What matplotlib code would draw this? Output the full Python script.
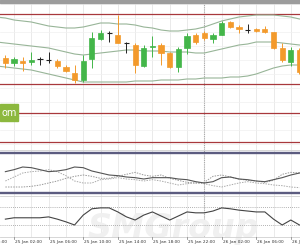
import matplotlib
matplotlib.use('Agg')
import matplotlib.pyplot as plt
from matplotlib.patches import Rectangle

W, H = 300, 250

# hourly candles, hour 0 = 25 Jan 00:00
hours = list(range(1, 36))
opens = [1.3942, 1.3937, 1.3939, 1.3938, 1.3941, 1.3940, 1.3939, 1.3933, 1.3927, 1.3920,
         1.3941, 1.3961, 1.3967, 1.3965, 1.3957, 1.3955, 1.3934, 1.3953, 1.3955, 1.3947,
         1.3933, 1.3952, 1.3965, 1.3967, 1.3961, 1.3965, 1.3978, 1.3973, 1.3970, 1.3971,
         1.3971, 1.3968, 1.3952, 1.3938, 1.3950]
highs = [1.3945, 1.3943, 1.3943, 1.3948, 1.3943, 1.3948, 1.3941, 1.3935, 1.3935, 1.3945,
         1.3968, 1.3970, 1.3969, 1.3985, 1.3958, 1.3957, 1.3955, 1.3964, 1.3957, 1.3948,
         1.3953, 1.3967, 1.3967, 1.3969, 1.3967, 1.3979, 1.3979, 1.3975, 1.3976, 1.3972,
         1.3974, 1.3968, 1.3957, 1.3953, 1.3952]
lows = [1.3932, 1.3934, 1.3929, 1.3935, 1.3935, 1.3937, 1.3932, 1.3928, 1.3917, 1.3918,
        1.3932, 1.3960, 1.3958, 1.3957, 1.3947, 1.3927, 1.3933, 1.3943, 1.3935, 1.3932,
        1.3928, 1.3946, 1.3956, 1.3960, 1.3957, 1.3965, 1.3972, 1.3967, 1.3967, 1.3968,
        1.3967, 1.3951, 1.3938, 1.3934, 1.3926]
closes = [1.3937, 1.3941, 1.3937, 1.3940, 1.3941, 1.3940, 1.3934, 1.3929, 1.3920, 1.3939,
          1.3962, 1.3967, 1.3967, 1.3957, 1.3957, 1.3935, 1.3952, 1.3954, 1.3947, 1.3933,
          1.3951, 1.3964, 1.3958, 1.3962, 1.3965, 1.3977, 1.3973, 1.3971, 1.3970, 1.3969,
          1.3968, 1.3952, 1.3940, 1.3950, 1.3928]

# bollinger bands, hours 0..35
band_hours = list(range(0, 36))
bb_upper = [1.3983, 1.3982, 1.3980, 1.3979, 1.3978, 1.3976, 1.3974, 1.3973, 1.3972, 1.3972,
            1.3973, 1.3975, 1.3977, 1.3977, 1.3976, 1.3976, 1.3975, 1.3973, 1.3972, 1.3970,
            1.3969, 1.3969, 1.3970, 1.3971, 1.3973, 1.3976, 1.3979, 1.3981, 1.3983, 1.3984,
            1.3985, 1.3985, 1.3985, 1.3984, 1.3983, 1.3981]
bb_mid = [1.3958, 1.3957, 1.3956, 1.3955, 1.3954, 1.3953, 1.3952, 1.3950, 1.3948, 1.3946,
          1.3945, 1.3946, 1.3947, 1.3948, 1.3949, 1.3950, 1.3950, 1.3949, 1.3949, 1.3949,
          1.3948, 1.3948, 1.3948, 1.3947, 1.3947, 1.3949, 1.3951, 1.3953, 1.3955, 1.3956,
          1.3958, 1.3958, 1.3958, 1.3957, 1.3956, 1.3955]
bb_lower = [1.3934, 1.3933, 1.3932, 1.3931, 1.3930, 1.3928, 1.3926, 1.3924, 1.3922, 1.3920,
            1.3918, 1.3918, 1.3918, 1.3918, 1.3918, 1.3918, 1.3919, 1.3919, 1.3919, 1.3920,
            1.3920, 1.3920, 1.3921, 1.3921, 1.3922, 1.3922, 1.3922, 1.3923, 1.3923, 1.3924,
            1.3926, 1.3929, 1.3932, 1.3934, 1.3935, 1.3935]

# support / resistance levels
levels = [1.3986, 1.3916, 1.3887, 1.3858]

# indicator window 1 (solid + two dotted lines)
ind_main = [52, 55, 59, 58, 55, 52, 53, 55, 59, 58, 53, 50, 47, 46, 44, 43, 41, 43, 43, 43,
            41, 40, 37, 35, 37, 43, 44, 41, 40, 38, 37, 40, 43, 47, 50]
ind_plus = [29, 29, 29, 30, 32, 35, 38, 42, 45, 47, 45, 42, 42, 45, 48, 51, 47, 45, 47, 42,
            39, 36, 35, 36, 45, 47, 44, 41, 39, 38, 36, 39, 48, 51, 50]
ind_minus = [38, 44, 50, 52, 53, 55, 52, 46, 38, 35, 35, 40, 41, 43, 41, 40, 38, 40, 38, 35,
             32, 34, 35, 34, 31, 29, 32, 35, 37, 35, 34, 32, 31, 29, 28]
ind_levels = [80, 20]

# indicator window 2
osc = [43, 46, 46, 46, 46, 48, 43, 37, 30, 52, 66, 68, 68, 59, 48, 41, 52, 59, 50, 41,
       50, 59, 57, 57, 61, 68, 66, 63, 61, 59, 59, 43, 30, 41, 30]
osc_levels = [70, 30]

tick_hours = [-2, 2, 6, 10, 14, 18, 22, 26, 30, 34]
tick_labels = ['24 Jan 22:00', '25 Jan 02:00', '25 Jan 06:00', '25 Jan 10:00', '25 Jan 14:00',
               '25 Jan 18:00', '25 Jan 22:00', '26 Jan 02:00', '26 Jan 06:00', '26 Jan 10:00']

UP = '#43b649'
DOWN = '#f39a2c'
BAND = '#98b598'
RED = '#a8383c'
NAVY = '#5c5c80'
GRID = '#e6e6e6'
XMIN, XMAX = 0.38, 35.06

fig = plt.figure(figsize=(3, 2.5), dpi=100)


def px_axes(top, bottom):
    ax = fig.add_axes([0, 1 - bottom / H, 1, (bottom - top) / H])
    ax.set_xlim(XMIN, XMAX)
    ax.set_xticks([])
    ax.set_yticks([])
    for s in ax.spines.values():
        s.set_visible(False)
    for h in range(2, 36, 2):
        ax.axvline(h, color=GRID, lw=0.6, zorder=0)
    ax.axvline(24, color='#aaaaaa', lw=0.8, ls=(0, (1, 1)), zorder=1)
    return ax


# main price window
ax = px_axes(3, 150)
ax.set_ylim(1.3850, 1.3997)
for k in range(11):
    ax.axhline(1.3996 - k * 0.0014, color='#f0f0f0', lw=0.5, zorder=0)
for lv in levels:
    ax.axhline(lv, color=RED, lw=0.9, zorder=2)
ax.plot(band_hours, bb_upper, color=BAND, lw=0.8, zorder=2)
ax.plot(band_hours, bb_mid, color=BAND, lw=0.8, zorder=2)
ax.plot(band_hours, bb_lower, color=BAND, lw=0.8, zorder=2)
for h, o, hi, lo, c in zip(hours, opens, highs, lows, closes):
    if o == c:
        ax.vlines(h, lo, hi, color='#222222', lw=0.7, zorder=3)
        ax.hlines(o, h - 0.3, h + 0.3, color='#222222', lw=0.8, zorder=3)
        continue
    col = UP if c > o else DOWN
    ax.vlines(h, lo, hi, color=col, lw=0.7, zorder=3)
    ax.bar(h, c - o, bottom=o, width=0.6, color=col, edgecolor=col, lw=0.5, zorder=4)

# indicator window 1
ax2 = px_axes(150, 196)
ax2.set_ylim(15.5, 84.5)
for lv in ind_levels:
    ax2.axhline(lv, color=NAVY, lw=1.7, zorder=2)
ax2.plot(hours, ind_plus, color='#999999', lw=0.7, ls=(0, (1.5, 1.2)), zorder=3)
ax2.plot(hours, ind_minus, color='#aaaaaa', lw=0.7, ls=(0, (1.5, 1.2)), zorder=3)
ax2.plot(hours, ind_main, color='#555555', lw=0.8, zorder=4)

# indicator window 2
ax3 = px_axes(196, 237)
ax3.set_ylim(3.3, 94.4)
for lv in osc_levels:
    ax3.axhline(lv, color='#999999', lw=0.6, ls=(0, (1, 1.5)), zorder=2)
ax3.plot(hours, osc, color='#444444', lw=0.8, zorder=4)
ax3.text(88 / W, 1 - 238 / H, 'SMGroup', transform=fig.transFigure, fontsize=24,
         fontweight='bold', style='italic', color='#f0f0f0', ha='left', va='baseline',
         zorder=1, clip_on=False)

# separators and top bar
fig.patches.append(Rectangle((0, 1 - 3 / H), 1, 3 / H, transform=fig.transFigure,
                             color='#9c9c9c', zorder=5))
for y in (150, 196, 237):
    fig.add_artist(plt.Line2D([0, 1], [1 - y / H, 1 - y / H], color='#d0d0d0', lw=0.6))

# green badge
fig.patches.append(Rectangle((0, 1 - 121 / H), 18 / W, 17 / H, transform=fig.transFigure,
                             color='#8cb83e', zorder=5))
fig.text(1 / W, 1 - 113 / H, 'om', color='white', fontsize=7, va='center', ha='left', zorder=6)

# time labels
for th, lab in zip(tick_hours, tick_labels):
    xp = 14 + (th - 2) * 8.65
    fig.text((xp + 1) / W, 1 - 242.5 / H, lab, fontsize=3.1, color='#333333',
             ha='left', va='center')
    fig.add_artist(plt.Line2D([xp / W, xp / W], [1 - 237 / H, 1 - 239 / H],
                              color='#777777', lw=0.5))

fig.savefig('out.png', dpi=100, facecolor='white')
